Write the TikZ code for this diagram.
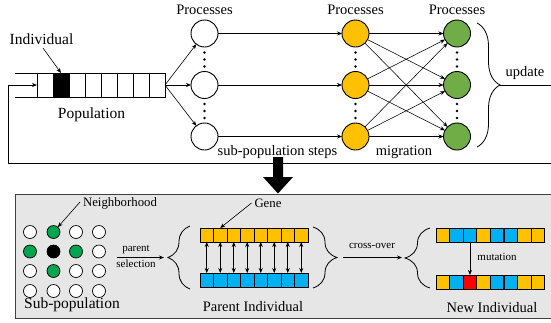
\documentclass[tikz,border=0pt]{standalone}
\usepackage{fontspec}
\setmainfont{Liberation Serif}
\usetikzlibrary{arrows.meta,decorations.pathreplacing,calc}

\definecolor{gold}{HTML}{FFC000}
\definecolor{sky}{HTML}{00B0F0}
\definecolor{leaf}{HTML}{70AD47}
\definecolor{nbr}{HTML}{00A550}
\definecolor{panel}{HTML}{E6E6E6}
\definecolor{frame}{HTML}{404040}

\begin{document}
\begin{tikzpicture}[x=1pt,y=-1pt,
  every node/.style={inner sep=0pt, outer sep=0pt},
  tip/.style={-{Stealth[length=5pt,width=4pt]}},
  proc/.style={circle, draw, line width=0.9pt, minimum size=27pt},
  cell/.style={draw, line width=0.8pt, minimum width=16pt, minimum height=24pt, anchor=north west},
  gene/.style={draw, line width=1pt, minimum width=13.5pt, minimum height=14pt, anchor=north west},
  gridpt/.style={circle, draw, line width=0.7pt, minimum size=13pt},
  lbl/.style={font=\fontsize{14.5}{16}\selectfont},
  big/.style={font=\fontsize{15.5}{18}\selectfont},
  mid/.style={font=\fontsize{12.8}{14}\selectfont},
  small/.style={font=\fontsize{11}{12}\selectfont},
  bracer/.style={decorate, decoration={brace, amplitude=#1}, line width=0.8pt},
]
\useasboundingbox (0,0) rectangle (551,322);

% ---------- population array ----------
\foreach \i/\f in {1/white,2/black,3/white,4/white,5/white,6/white,7/white,8/white}
  \node[cell, fill=\f] (c\i) at ({37+16*(\i-1)},73) {};
\draw[line width=0.8pt] (15,73) -- (c1.north west);
\draw[line width=0.8pt] (15,97) -- (c1.south west);
\node[big] (indlbl) at (41.5,39.5) {Individual};
\draw[tip, line width=0.6pt] (43,48) -- (c2.north);
\node[big] (poplbl) at (91.5,115) {Population};

% ---------- processes ----------
\foreach \k/\y in {1/33.5,2/85,3/136.5}{
  \node[proc, fill=white] (w\k) at (204.5,\y) {};
  \node[proc, fill=gold]  (o\k) at (355.5,\y) {};
  \node[proc, fill=leaf]  (g\k) at (457,\y) {};
}
\foreach \x/\n in {204.5/w,355.5/o,457/g}
  \node[lbl] (head\n) at (\x,9.5) {Processes};
\foreach \x in {204.5,355.5,457}
  \foreach \y in {52.5,59.5,66.5,104,111,118}
    \fill (\x,\y) circle (1.3pt);

\foreach \k in {1,2,3}{
  \draw[tip, line width=0.6pt] (c8.east) -- (w\k);
  \draw[tip, line width=0.6pt] (w\k) -- (o\k);
  \foreach \j in {1,2,3}
    \draw[tip, line width=0.55pt] (o\k) -- (g\j);
}
\node[lbl] (steps) at (277.5,152) {sub-population steps};
\node[lbl] (migr) at (404,152) {migration};

% ---------- update loop ----------
\coordinate (uptip) at (500,85);
\coordinate (upR) at (551,85);
\coordinate (fbR) at (551,163);
\draw[bracer=23] (477,23) -- (477,147);
\draw[line width=0.8pt] (uptip) -- (upR);
\node[lbl] (upd) at (525,73) {update};
\draw[tip, line width=0.8pt] (fbR) -- (8,163) -- (8,85) -- (c1.west);

% ---------- transition arrow ----------
\fill (273,157) -- (283,157) -- (283,177) -- (293,177) -- (278,193.5)
      -- (263,177) -- (273,177) -- cycle;

% ---------- cellular GA panel ----------
\fill[panel] (15,194) rectangle (551,318);
\draw[frame, line width=0.9pt] (551,194) -- (15,194) -- (15,318) -- (551,318);

\foreach \r/\y/\ca/\cb/\cc/\cd in {1/232/white/nbr/white/white,
                                   2/251.5/nbr/black/nbr/white,
                                   3/271/white/nbr/white/white,
                                   4/291/white/white/white/white}{
  \node[gridpt, fill=\ca] (n\r1) at (30,\y) {};
  \node[gridpt, fill=\cb] (n\r2) at (53.5,\y) {};
  \node[gridpt, fill=\cc] (n\r3) at (76,\y) {};
  \node[gridpt, fill=\cd] (n\r4) at (99,\y) {};
}
\node[mid] (nbh) at (120,203) {Neighborhood};
\draw[tip, line width=0.6pt] ($(nbh.west)+(-3,-1)$) -- (n12);
\node[big] (subpop) at (72,305) {Sub-population};

% parent selection
\coordinate (bl1) at (168,257.5);
\draw[tip, line width=0.8pt] (117,257.5) -- ($(bl1)+(-4,0)$);
\node[small] (psel1) at (136,250) {parent};
\node[small] (psel2) at (136,264) {selection};
\draw[bracer=22] (190,289) -- (190,226);

% parent individuals
\foreach \i in {1,...,8}{
  \node[gene, fill=gold] (p\i) at ({200+13.5*(\i-1)},228) {};
  \node[gene, fill=sky]  (q\i) at ({200+13.5*(\i-1)},273) {};
}
\foreach \i in {1,...,8}
  \draw[{Stealth[length=5pt,width=4pt]}-{Stealth[length=5pt,width=4pt]}, line width=0.9pt]
    (p\i.south) -- (q\i.north);
\node[mid] (genelbl) at (268,203) {Gene};
\draw[tip, line width=0.6pt] ($(genelbl.west)+(-3,0)$) -- (p2.north);
\node[lbl] (parlbl) at (253,307) {Parent Individual};
\draw[bracer=24] (313,227) -- (313,288);

% cross-over
\coordinate (br1) at (337,257.5);
\coordinate (bl2) at (405,257.5);
\draw[tip, line width=0.8pt] ($(br1)+(6,0)$) -- ($(bl2)+(-3,0)$);
\node[small] (xover) at (372,246) {cross-over};
\draw[bracer=25] (430,288) -- (430,228);

% offspring
\foreach \i/\ft/\fb in {1/gold/gold,2/sky/sky,3/sky/red,4/gold/gold,
                        5/sky/sky,6/sky/sky,7/gold/gold,8/gold/gold}{
  \node[gene, fill=\ft] (t\i) at ({436+13.6*(\i-1)},228) {};
  \node[gene, fill=\fb] (u\i) at ({436+13.6*(\i-1)},275) {};
}
\draw[tip, line width=0.8pt] (t3.south) -- (u3.north);
\node[small] (mut) at (497,257) {mutation};
\node[lbl] (newlbl) at (492,308) {New Individual};
\end{tikzpicture}
\end{document}
